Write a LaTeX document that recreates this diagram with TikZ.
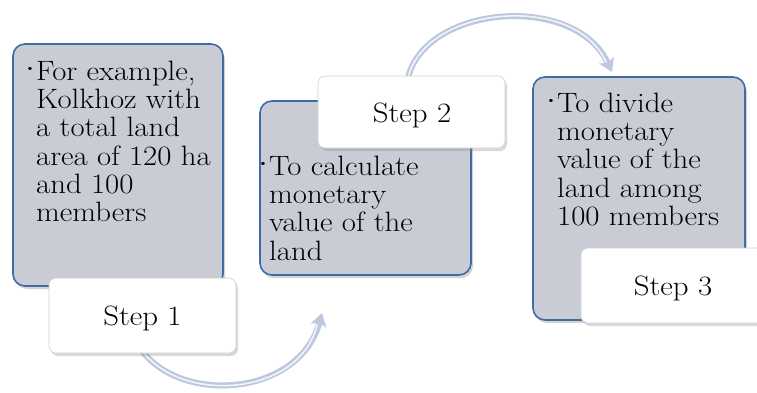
\documentclass[tikz,border=0pt]{standalone}
\usepackage{fontspec}
\setmainfont{Latin Modern Roman}[FakeStretch=1.1]
\usetikzlibrary{arrows.meta,shadows}
\definecolor{boxfill}{HTML}{C9CCD5}
\definecolor{boxline}{HTML}{3F6DA3}
\definecolor{arccol}{HTML}{BCC8DE}
\definecolor{stepline}{HTML}{D0D0D0}
\tikzset{
  greybox/.style={draw=boxline, line width=1.6pt, fill=boxfill, rounded corners=12pt,
    drop shadow={opacity=0.35, shadow xshift=2pt, shadow yshift=-3pt}},
  stepbox/.style={draw=stepline, line width=0.6pt, fill=white, rounded corners=7pt,
    drop shadow={opacity=0.3, shadow xshift=2pt, shadow yshift=-3pt}},
  bodytext/.style={anchor=north west, inner sep=0pt, align=left,
    font=\fontsize{28}{28.3}\selectfont},
  steptext/.style={inner sep=0pt, font=\fontsize{28}{28.3}\selectfont},
  arcback/.style={line width=6pt, draw=arccol, line cap=round,
    -{Stealth[length=13pt,width=16pt,inset=3pt,fill=arccol]}},
  arcfront/.style={line width=1.6pt, draw=white!80!arccol, line cap=round},
}
\newcommand{\bul}{\llap{\raisebox{8.5pt}{\fontsize{11}{11}\selectfont\textbullet}\hspace{1.5pt}}}
\begin{document}
\begin{tikzpicture}[x=1pt,y=-1pt]
\useasboundingbox (0,0) rectangle (757,392);
% connectors
\coordinate (a1s) at (143,352);
\coordinate (a1e) at (322,313);
\coordinate (a2s) at (408,78);
\coordinate (a2e) at (612,72);
\draw[arcback] (a1s) .. controls (185,405) and (300,395) .. (a1e);
\draw[arcfront] (a1s) .. controls (185,405) and (300,395) .. (317,325);
\draw[arcback] (a2s) .. controls (425,5) and (575,-8) .. (a2e);
\draw[arcfront] (a2s) .. controls (425,5) and (575,-8) .. (606,62);
% box 1
\path[greybox] (13,44) rectangle (223,286);
\node[bodytext] (t1) at (36,60.6) {\bul For example,\\Kolkhoz with\\a total land\\area of 120 ha\\and 100\\members};
\path[stepbox] (49,278) rectangle (236,353);
\node[steptext] (s1) at (142.5,318.2) {Step 1};
% box 2
\path[greybox] (260,101) rectangle (471,275);
\node[bodytext] (t2) at (269,155.6) {\bul To calculate\\monetary\\value of the\\land};
\path[stepbox] (318,76) rectangle (505,148);
\node[steptext] (s2) at (412,115.2) {Step 2};
% box 3
\path[greybox] (533,77) rectangle (745,320);
\node[bodytext] (t3) at (557,92.6) {\bul To divide\\monetary\\value of the\\land among\\100 members};
\path[stepbox] (581,248) rectangle (770,323);
\node[steptext] (s3) at (673,288.2) {Step 3};
\end{tikzpicture}
\end{document}
